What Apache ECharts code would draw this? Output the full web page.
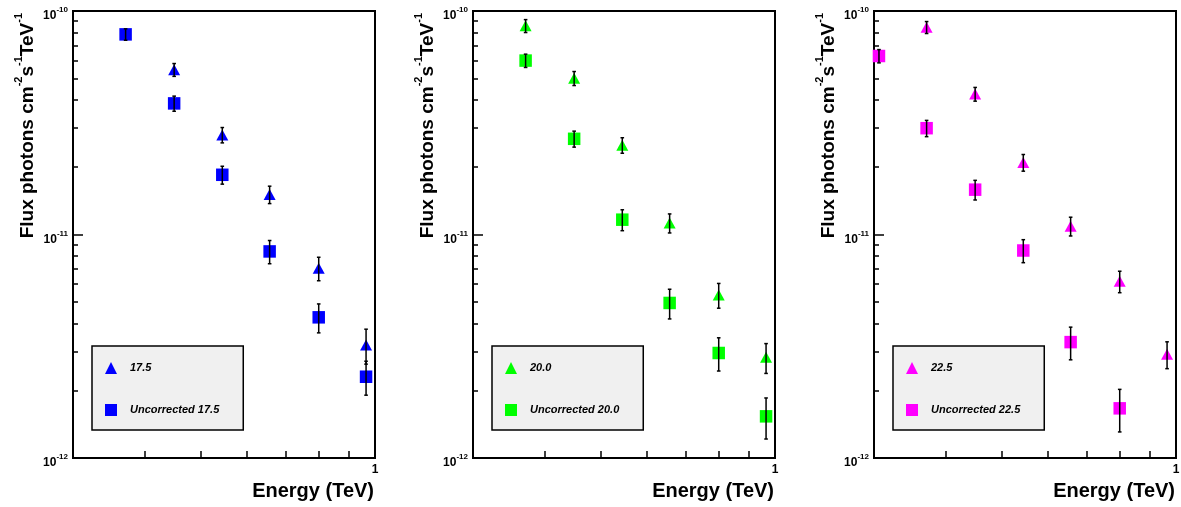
<!DOCTYPE html>
<html>
<head>
<meta charset="utf-8">
<script src="https://cdn.jsdelivr.net/npm/echarts@6/dist/echarts.min.js"></script>
<style>
html,body{margin:0;padding:0;background:#fff;}
#chart{width:1181px;height:507px;}
</style>
</head>
<body>
<div id="chart"></div>
<script>
// ---- Data ----
// Energy bins (TeV)
const energies = [0.306, 0.370, 0.449, 0.544, 0.657, 0.799, 0.965];

// Panel 1 : 17.5
const corr175E = [0.449, 0.544, 0.657, 0.799, 0.965];
const corr175 = [5.46e-11, 2.79e-11, 1.51e-11, 7.06e-12, 3.2e-12];
const corr175Err = [0.36e-11, 0.22e-11, 0.135e-11, 0.85e-12, 0.57e-12];
const unc175E = [0.370, 0.449, 0.544, 0.657, 0.799, 0.965];
const unc175 = [7.86e-11, 3.86e-11, 1.85e-11, 8.4e-12, 4.26e-12, 2.31e-12];
const unc175Err = [0.46e-11, 0.30e-11, 0.17e-11, 1.0e-12, 0.63e-12, 0.4e-12];

// Panel 2 : 20.0
const corr200E = [0.370, 0.449, 0.544, 0.657, 0.799, 0.965];
const corr200 = [8.58e-11, 5.0e-11, 2.51e-11, 1.126e-11, 5.36e-12, 2.82e-12];
const corr200Err = [0.57e-11, 0.36e-11, 0.2e-11, 0.11e-11, 0.68e-12, 0.43e-12];
const unc200E = [0.370, 0.449, 0.544, 0.657, 0.799, 0.965];
const unc200 = [6.0e-11, 2.68e-11, 1.165e-11, 4.94e-12, 2.95e-12, 1.536e-12];
const unc200Err = [0.41e-11, 0.22e-11, 0.125e-11, 0.75e-12, 0.5e-12, 0.32e-12];

// Panel 3 : 22.5
const corr225E = [0.370, 0.449, 0.544, 0.657, 0.799, 0.965];
const corr225 = [8.45e-11, 4.25e-11, 2.10e-11, 1.09e-11, 6.17e-12, 2.91e-12];
const corr225Err = [0.52e-11, 0.3e-11, 0.18e-11, 0.105e-11, 0.68e-12, 0.4e-12];
const unc225E = [0.306, 0.370, 0.449, 0.544, 0.657, 0.799];
const unc225 = [6.29e-11, 2.99e-11, 1.587e-11, 8.48e-12, 3.30e-12, 1.668e-12];
const unc225Err = [0.43e-11, 0.25e-11, 0.16e-11, 1.0e-12, 0.55e-12, 0.36e-12];

// Series names / colours
const panelLabels = ['17.5', '20.0', '22.5'];
const panelColors = ['#0000ff', '#00ff00', '#ff00ff'];

// Axis ticks
const xRange = [0.3, 1];
const yRange = [1e-12, 1e-10];
const xMinorTicks = [0.4, 0.5, 0.6, 0.7, 0.8, 0.9];
const xLabelTicks = [1];
const yMajorTicks = [1e-12, 1e-11, 1e-10];
const yMinorTicks = [2e-12, 3e-12, 4e-12, 5e-12, 6e-12, 7e-12, 8e-12, 9e-12,
                     2e-11, 3e-11, 4e-11, 5e-11, 6e-11, 7e-11, 8e-11, 9e-11];

// ---- Build chart ----
const FONT = '"Liberation Sans", Arial, Helvetica, sans-serif';
const panels = [
  {corrE: corr175E, corr: corr175, corrErr: corr175Err, uncE: unc175E, unc: unc175, uncErr: unc175Err},
  {corrE: corr200E, corr: corr200, corrErr: corr200Err, uncE: unc200E, unc: unc200, uncErr: unc200Err},
  {corrE: corr225E, corr: corr225, corrErr: corr225Err, uncE: unc225E, unc: unc225, uncErr: unc225Err}
];
const gridLefts = [73, 473, 874];
const legendLefts = [92, 492, 893];

function errRender(params, api) {
  const x = api.value(0), y = api.value(1), s = api.value(2);
  const top = api.coord([x, y + s]);
  const bot = api.coord([x, y - s]);
  const st = {stroke: '#000', lineWidth: 1.5};
  return {
    type: 'group',
    children: [
      {type: 'line', shape: {x1: top[0], y1: top[1], x2: bot[0], y2: bot[1]}, style: st},
      {type: 'line', shape: {x1: top[0] - 1.8, y1: top[1], x2: top[0] + 1.8, y2: top[1]}, style: st},
      {type: 'line', shape: {x1: bot[0] - 1.8, y1: bot[1], x2: bot[0] + 1.8, y2: bot[1]}, style: st}
    ]
  };
}

const grids = [], xAxes = [], yAxes = [], series = [], legends = [];
panels.forEach((p, i) => {
  grids.push({
    left: gridLefts[i], top: 11, width: 302, height: 447,
    show: true, borderColor: '#000', borderWidth: 2,
    backgroundColor: 'transparent', outerBoundsMode: 'none', containLabel: false
  });
  xAxes.push({
    gridIndex: i, type: 'log', logBase: 10, min: xRange[0], max: xRange[1],
    name: 'Energy (TeV)', nameLocation: 'end', nameGap: -1, nameMoveOverlap: false,
    nameTextStyle: {fontFamily: FONT, fontSize: 20, fontWeight: 'bold', color: '#000',
      align: 'right', verticalAlign: 'top', padding: [23, 0, 0, 0]},
    axisLine: {show: true, lineStyle: {color: '#000', width: 2}},
    axisTick: {show: true, inside: true, length: 7, customValues: xMinorTicks,
      lineStyle: {color: '#000', width: 1.5}},
    axisLabel: {show: true, customValues: xLabelTicks, margin: 6,
      fontFamily: FONT, fontSize: 12, fontWeight: 'bold', color: '#000',
      formatter: v => String(Math.round(v * 10) / 10)},
    splitLine: {show: false}, minorTick: {show: false}
  });
  yAxes.push({
    gridIndex: i, type: 'log', logBase: 10, min: yRange[0], max: yRange[1], position: 'left',
    name: '{m|Flux photons cm}{s|-2}{m|s}{s|-1}{m|TeV}{s|-1}',
    nameLocation: 'end', nameGap: -2, nameRotate: 90, nameMoveOverlap: false,
    nameTextStyle: {
      align: 'right', verticalAlign: 'bottom', padding: [0, 0, 36, 0],
      rich: {
        m: {fontFamily: FONT, fontSize: 19, fontWeight: 'bold', color: '#000', lineHeight: 24, verticalAlign: 'bottom'},
        s: {fontFamily: FONT, fontSize: 11, fontWeight: 'bold', color: '#000', lineHeight: 14, verticalAlign: 'top'}
      }
    },
    axisLine: {show: true, lineStyle: {color: '#000', width: 2}},
    axisTick: {show: true, inside: true, length: 10, customValues: yMajorTicks,
      lineStyle: {color: '#000', width: 1.5}},
    axisLabel: {
      show: true, customValues: yMajorTicks, margin: 5, padding: [6, 0, 0, 0],
      formatter: v => '{b|10}{s|' + Math.round(Math.log10(v)) + '}',
      rich: {
        b: {fontFamily: FONT, fontSize: 12, fontWeight: 'bold', color: '#000', lineHeight: 16, verticalAlign: 'bottom'},
        s: {fontFamily: FONT, fontSize: 8, fontWeight: 'bold', color: '#000', lineHeight: 10, verticalAlign: 'top'}
      }
    },
    splitLine: {show: false}, minorTick: {show: false}
  });
  yAxes.push({
    gridIndex: i, type: 'log', logBase: 10, min: yRange[0], max: yRange[1], position: 'left', offset: 0,
    axisLine: {show: false},
    axisTick: {show: true, inside: true, length: 5, customValues: yMinorTicks,
      lineStyle: {color: '#000', width: 1.5}},
    axisLabel: {show: false},
    splitLine: {show: false}, minorTick: {show: false}
  });
  const col = panelColors[i];
  const nameC = panelLabels[i];
  const nameU = 'Uncorrected ' + panelLabels[i];
  series.push({
    type: 'scatter', name: nameC, xAxisIndex: i, yAxisIndex: 2 * i,
    data: p.corrE.map((e, k) => [e, p.corr[k]]),
    symbol: 'triangle', symbolSize: [12, 11], itemStyle: {color: col, opacity: 1},
    clip: false, z: 2, silent: true
  });
  series.push({
    type: 'scatter', name: nameU, xAxisIndex: i, yAxisIndex: 2 * i,
    data: p.uncE.map((e, k) => [e, p.unc[k]]),
    symbol: 'rect', symbolSize: 12.5, itemStyle: {color: col, opacity: 1},
    clip: false, z: 2, silent: true
  });
  series.push({
    type: 'custom', name: 'err-c-' + i, xAxisIndex: i, yAxisIndex: 2 * i,
    data: p.corrE.map((e, k) => [e, p.corr[k], p.corrErr[k]]),
    encode: {x: 0, y: 1}, renderItem: errRender, clip: false, z: 3, silent: true
  });
  series.push({
    type: 'custom', name: 'err-u-' + i, xAxisIndex: i, yAxisIndex: 2 * i,
    data: p.uncE.map((e, k) => [e, p.unc[k], p.uncErr[k]]),
    encode: {x: 0, y: 1}, renderItem: errRender, clip: false, z: 3, silent: true
  });
  legends.push({
    left: legendLefts[i], top: 346, orient: 'vertical',
    data: [{name: nameC, icon: 'triangle'}, {name: nameU, icon: 'rect'}],
    itemWidth: 12, itemHeight: 12, itemGap: 30,
    padding: [16, 24, 14, 13],
    backgroundColor: '#f0f0f0', borderColor: '#000', borderWidth: 1.5, borderRadius: 0,
    selectedMode: false,
    textStyle: {fontFamily: FONT, fontSize: 11, fontWeight: 'bold', fontStyle: 'italic', color: '#000',
      padding: [0, 0, 0, 8]}
  });
});

const chart = echarts.init(document.getElementById('chart'), null, {renderer: 'canvas'});
chart.setOption({
  animation: false,
  backgroundColor: '#fff',
  grid: grids,
  xAxis: xAxes,
  yAxis: yAxes,
  legend: legends,
  series: series
});
</script>
</body>
</html>
